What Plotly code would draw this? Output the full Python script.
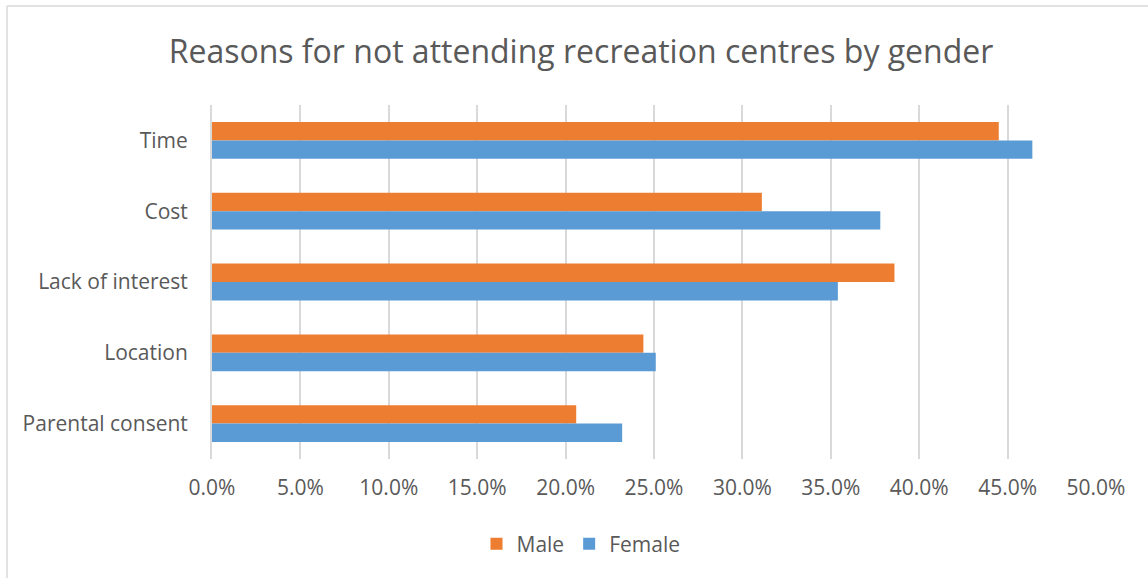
import plotly.graph_objects as go

# Survey results: share of respondents citing each reason
reasons = ["Time", "Cost", "Lack of interest", "Location", "Parental consent"]
male = [0.445, 0.311, 0.386, 0.244, 0.206]
female = [0.464, 0.378, 0.354, 0.251, 0.232]

x_ticks = [i * 0.05 for i in range(11)]
x_tick_labels = [f"{v * 100:.1f}%" for v in x_ticks]

ORANGE = "#ED7D31"
BLUE = "#5B9BD5"
TEXT = "#595959"
GRID = "#D9D9D9"
FONT = "Open Sans"

fig = go.Figure()
fig.add_trace(go.Bar(
    name="Male", y=reasons, x=male, orientation="h",
    marker=dict(color=ORANGE, line=dict(width=0)),
))
fig.add_trace(go.Bar(
    name="Female", y=reasons, x=female, orientation="h",
    marker=dict(color=BLUE, line=dict(width=0)),
))

W, H = 1148, 578
L, R, T, B = 212, 52, 105, 119
pw, ph = W - L - R, H - T - B


def px_x(px):
    return (px - L) / pw


def px_y(py):
    return (H - B - py) / ph


fig.update_layout(
    width=W, height=H,
    margin=dict(l=L, r=R, t=T, b=B, pad=0),
    paper_bgcolor="white", plot_bgcolor="white",
    barmode="group", bargap=0.48, bargroupgap=0,
    font=dict(family=FONT, color=TEXT, size=21),
    title=dict(
        text="Reasons for not attending recreation centres by gender",
        font=dict(family=FONT, size=32, color=TEXT),
        x=581 / W, xanchor="center", xref="container",
        y=1 - 52 / H, yanchor="middle", yref="container",
    ),
    xaxis=dict(
        range=[0, 0.5], tickvals=x_ticks, ticktext=x_tick_labels,
        showgrid=True, gridcolor=GRID, gridwidth=2,
        zeroline=False, showline=False, ticks="",
        ticklabelstandoff=14,
        tickfont=dict(size=21, color=TEXT),
    ),
    yaxis=dict(
        autorange="reversed", type="category",
        showgrid=False, zeroline=False,
        showline=True, linecolor=GRID, linewidth=2,
        ticks="", ticklabelstandoff=18,
        tickfont=dict(size=21, color=TEXT),
    ),
    legend=dict(
        orientation="h", xref="paper", yref="paper",
        x=px_x(581), xanchor="center", y=px_y(544), yanchor="middle",
        font=dict(size=21, color=TEXT), itemwidth=30,
        bgcolor="rgba(0,0,0,0)",
    ),
    shapes=[
        dict(type="line", xref="paper", yref="paper",
             x0=px_x(7), x1=px_x(W), y0=px_y(6), y1=px_y(6),
             line=dict(color=GRID, width=1.5)),
        dict(type="line", xref="paper", yref="paper",
             x0=px_x(7), x1=px_x(7), y0=px_y(6), y1=px_y(H),
             line=dict(color=GRID, width=1.5)),
    ],
)

fig.write_html("out.html")
